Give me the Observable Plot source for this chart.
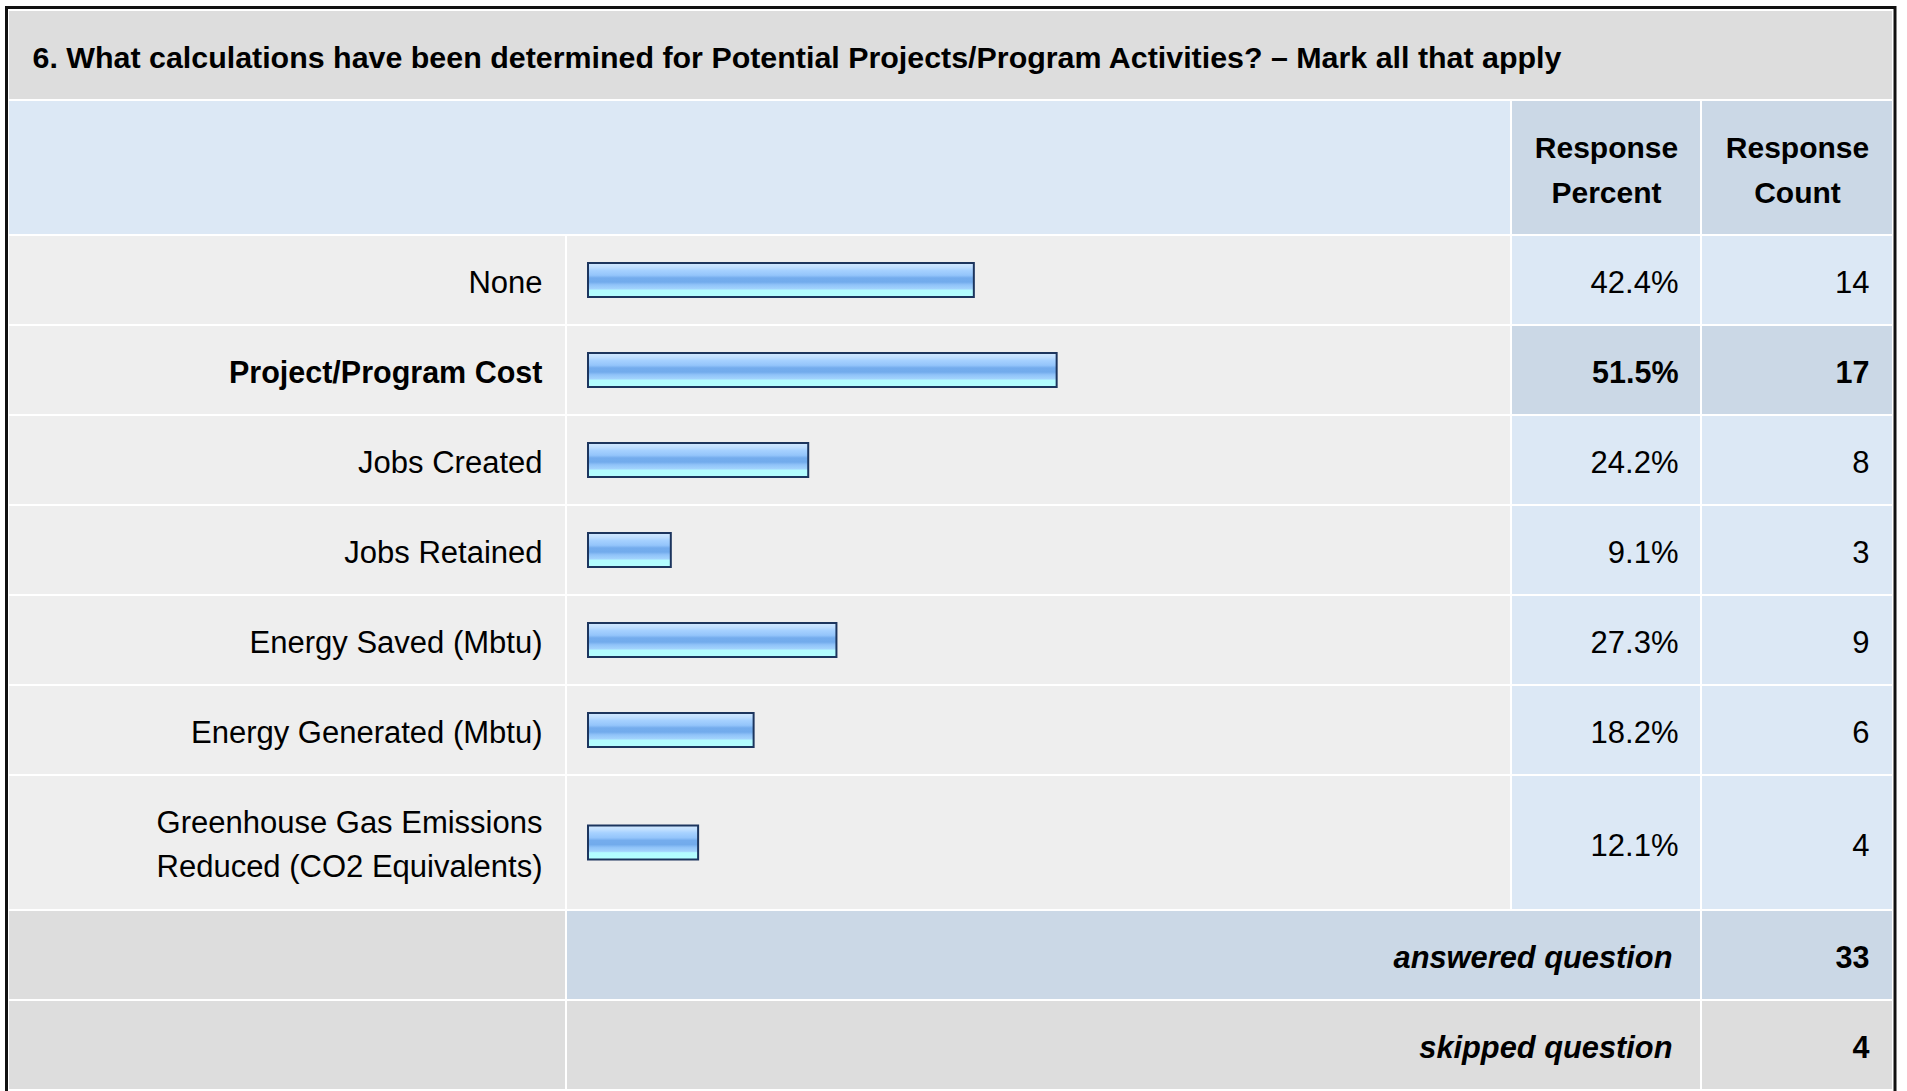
<!DOCTYPE html>
<html><head><meta charset="utf-8">
<script src="https://cdn.jsdelivr.net/npm/d3@7"></script>
<script src="https://cdn.jsdelivr.net/npm/@observablehq/plot@0.6"></script>
<style>
html,body{margin:0;padding:0;background:#fff;}
#chart svg{display:block;}
</style></head><body><div id="chart"></div>
<script>
// ---- data ----
const title = "6. What calculations have been determined for Potential Projects/Program Activities? – Mark all that apply";
const columnHeaders = ["Response\nPercent", "Response\nCount"];
const categories = [
  "None",
  "Project/Program Cost",
  "Jobs Created",
  "Jobs Retained",
  "Energy Saved (Mbtu)",
  "Energy Generated (Mbtu)",
  "Greenhouse Gas Emissions\nReduced (CO2 Equivalents)"
];
const percents = [42.4, 51.5, 24.2, 9.1, 27.3, 18.2, 12.1];
const counts = [14, 17, 8, 3, 9, 6, 4];
const highlighted = ["Project/Program Cost"];
const summaryLabels = ["answered question", "skipped question"];
const summaryValues = [33, 4];

// ---- layout ----
const W = 1907, H = 1091;
const FONT = "'Liberation Sans', Arial, Helvetica, sans-serif";
const xOpts = {domain: [0, 100], range: [588, 1498]};
const yOpts = {domain: [0, 12], range: [10, 1090]};
const xs = Plot.scale({x: xOpts});
const ys = Plot.scale({y: yOpts});
const px = v => xs.invert(v);
const py = v => ys.invert(v);
const col = {left: 8, label: 566, pct: 1511, count: 1701, right: 1893};
const C = {title: "#dddddd", head: "#dce8f5", headCell: "#cbd8e6", cell: "#eeeeee", num: "#dce8f5", numHi: "#cbd8e6", foot: "#dddddd"};

let u = 2.5;
const rows = categories.map((c, i) => {
  const lines = c.split("\n").length;
  const h = 1 + 0.5 * (lines - 1);
  const r = {label: c, lines, pct: percents[i], count: counts[i], hi: highlighted.includes(c), y1: u, y2: u + h, yc: u + h / 2};
  u += h;
  return r;
});
const summary = summaryLabels.map((s, i) => {
  const r = {label: s, value: summaryValues[i], y1: u, y2: u + 1, yc: u + 0.5, i};
  u += 1;
  return r;
});

const cells = [];
cells.push({x1: col.left, x2: col.right, y1: 0, y2: 1, fill: C.title});
cells.push({x1: col.left, x2: col.pct, y1: 1, y2: 2.5, fill: C.head});
cells.push({x1: col.pct, x2: col.count, y1: 1, y2: 2.5, fill: C.headCell});
cells.push({x1: col.count, x2: col.right, y1: 1, y2: 2.5, fill: C.headCell});
rows.forEach(r => {
  cells.push({x1: col.left, x2: col.label, y1: r.y1, y2: r.y2, fill: C.cell});
  cells.push({x1: col.label, x2: col.pct, y1: r.y1, y2: r.y2, fill: C.cell});
  cells.push({x1: col.pct, x2: col.count, y1: r.y1, y2: r.y2, fill: r.hi ? C.numHi : C.num});
  cells.push({x1: col.count, x2: col.right, y1: r.y1, y2: r.y2, fill: r.hi ? C.numHi : C.num});
});
summary.forEach(r => {
  const f = r.i === 0 ? C.headCell : C.foot;
  cells.push({x1: col.left, x2: col.label, y1: r.y1, y2: r.y2, fill: C.foot});
  cells.push({x1: col.label, x2: col.count, y1: r.y1, y2: r.y2, fill: f});
  cells.push({x1: col.count, x2: col.right, y1: r.y1, y2: r.y2, fill: f});
});

const barHalf = 17 / 90;
const headerX = [(col.pct + col.count) / 2, (col.count + col.right) / 2];
const normal = rows.filter(d => !d.hi);
const bold = rows.filter(d => d.hi);

const chart = Plot.plot({
  width: W, height: H,
  margin: 0,
  x: {...xOpts, axis: null},
  y: {...yOpts, axis: null},
  color: {type: "identity"},
  style: {fontFamily: FONT, background: "#ffffff", color: "#000"},
  marks: [
    Plot.rect(cells, {x1: d => px(d.x1), x2: d => px(d.x2), y1: "y1", y2: "y2", fill: "fill", inset: 1}),
    Plot.rect([0], {x1: px(6.5), x2: px(1895), y1: py(7.5), y2: py(1093), fill: "none", stroke: "#111", strokeWidth: 3}),
    Plot.text([title], {x: px(32), y: 0.5, text: d => d, textAnchor: "start", fontSize: 30.4, fontWeight: "bold", dy: 3}),
    Plot.text(columnHeaders, {x: (d, i) => px(headerX[i]), y: 1.75, text: d => d, fontSize: 30, fontWeight: "bold", lineHeight: 1.5, dy: -2}),
    Plot.rect(rows, {x1: 0, x2: "pct", y1: d => d.yc - barHalf, y2: d => d.yc + barHalf, fill: "url(#barGrad)", stroke: "#1c355e", strokeWidth: 2}),
    Plot.text(normal.filter(d => d.lines === 1), {x: px(542), y: "yc", text: "label", textAnchor: "end", fontSize: 31, dy: 3}),
    Plot.text(normal.filter(d => d.lines > 1), {x: px(542), y: "yc", text: "label", textAnchor: "end", fontSize: 31, lineHeight: 1.42, dy: -2}),
    Plot.text(bold, {x: px(542), y: "yc", text: "label", textAnchor: "end", fontSize: 30.5, fontWeight: "bold", dy: 3}),
    Plot.text(normal, {x: px(1678), y: "yc", text: d => d.pct.toFixed(1) + "%", textAnchor: "end", fontSize: 31, dy: 3}),
    Plot.text(bold, {x: px(1678), y: "yc", text: d => d.pct.toFixed(1) + "%", textAnchor: "end", fontSize: 30.5, fontWeight: "bold", dy: 3}),
    Plot.text(normal, {x: px(1869), y: "yc", text: d => String(d.count), textAnchor: "end", fontSize: 31, dy: 3}),
    Plot.text(bold, {x: px(1869), y: "yc", text: d => String(d.count), textAnchor: "end", fontSize: 30.5, fontWeight: "bold", dy: 3}),
    Plot.text(summary, {x: px(1672), y: "yc", text: "label", textAnchor: "end", fontSize: 30.8, fontWeight: "bold", fontStyle: "italic", dy: 3}),
    Plot.text(summary, {x: px(1869), y: "yc", text: d => String(d.value), textAnchor: "end", fontSize: 30.5, fontWeight: "bold", dy: 3})
  ]
});

// gradient definition for the bar fill
const defs = d3.create("svg:defs");
const grad = defs.append("linearGradient").attr("id", "barGrad").attr("x1", 0).attr("x2", 0).attr("y1", 0).attr("y2", 1);
[[0, "#d2e9ff"], [0.12, "#c0dfff"], [0.22, "#a6d1ff"], [0.36, "#94c5fb"], [0.44, "#74aced"], [0.56, "#72abec"], [0.64, "#8fc2f8"], [0.76, "#a3d3fd"], [0.8, "#b3fbff"], [1, "#b3ffff"]]
  .forEach(([o, c]) => grad.append("stop").attr("offset", o).attr("stop-color", c));
chart.insertBefore(defs.node(), chart.firstChild);

document.getElementById("chart").appendChild(chart);
</script></body></html>
